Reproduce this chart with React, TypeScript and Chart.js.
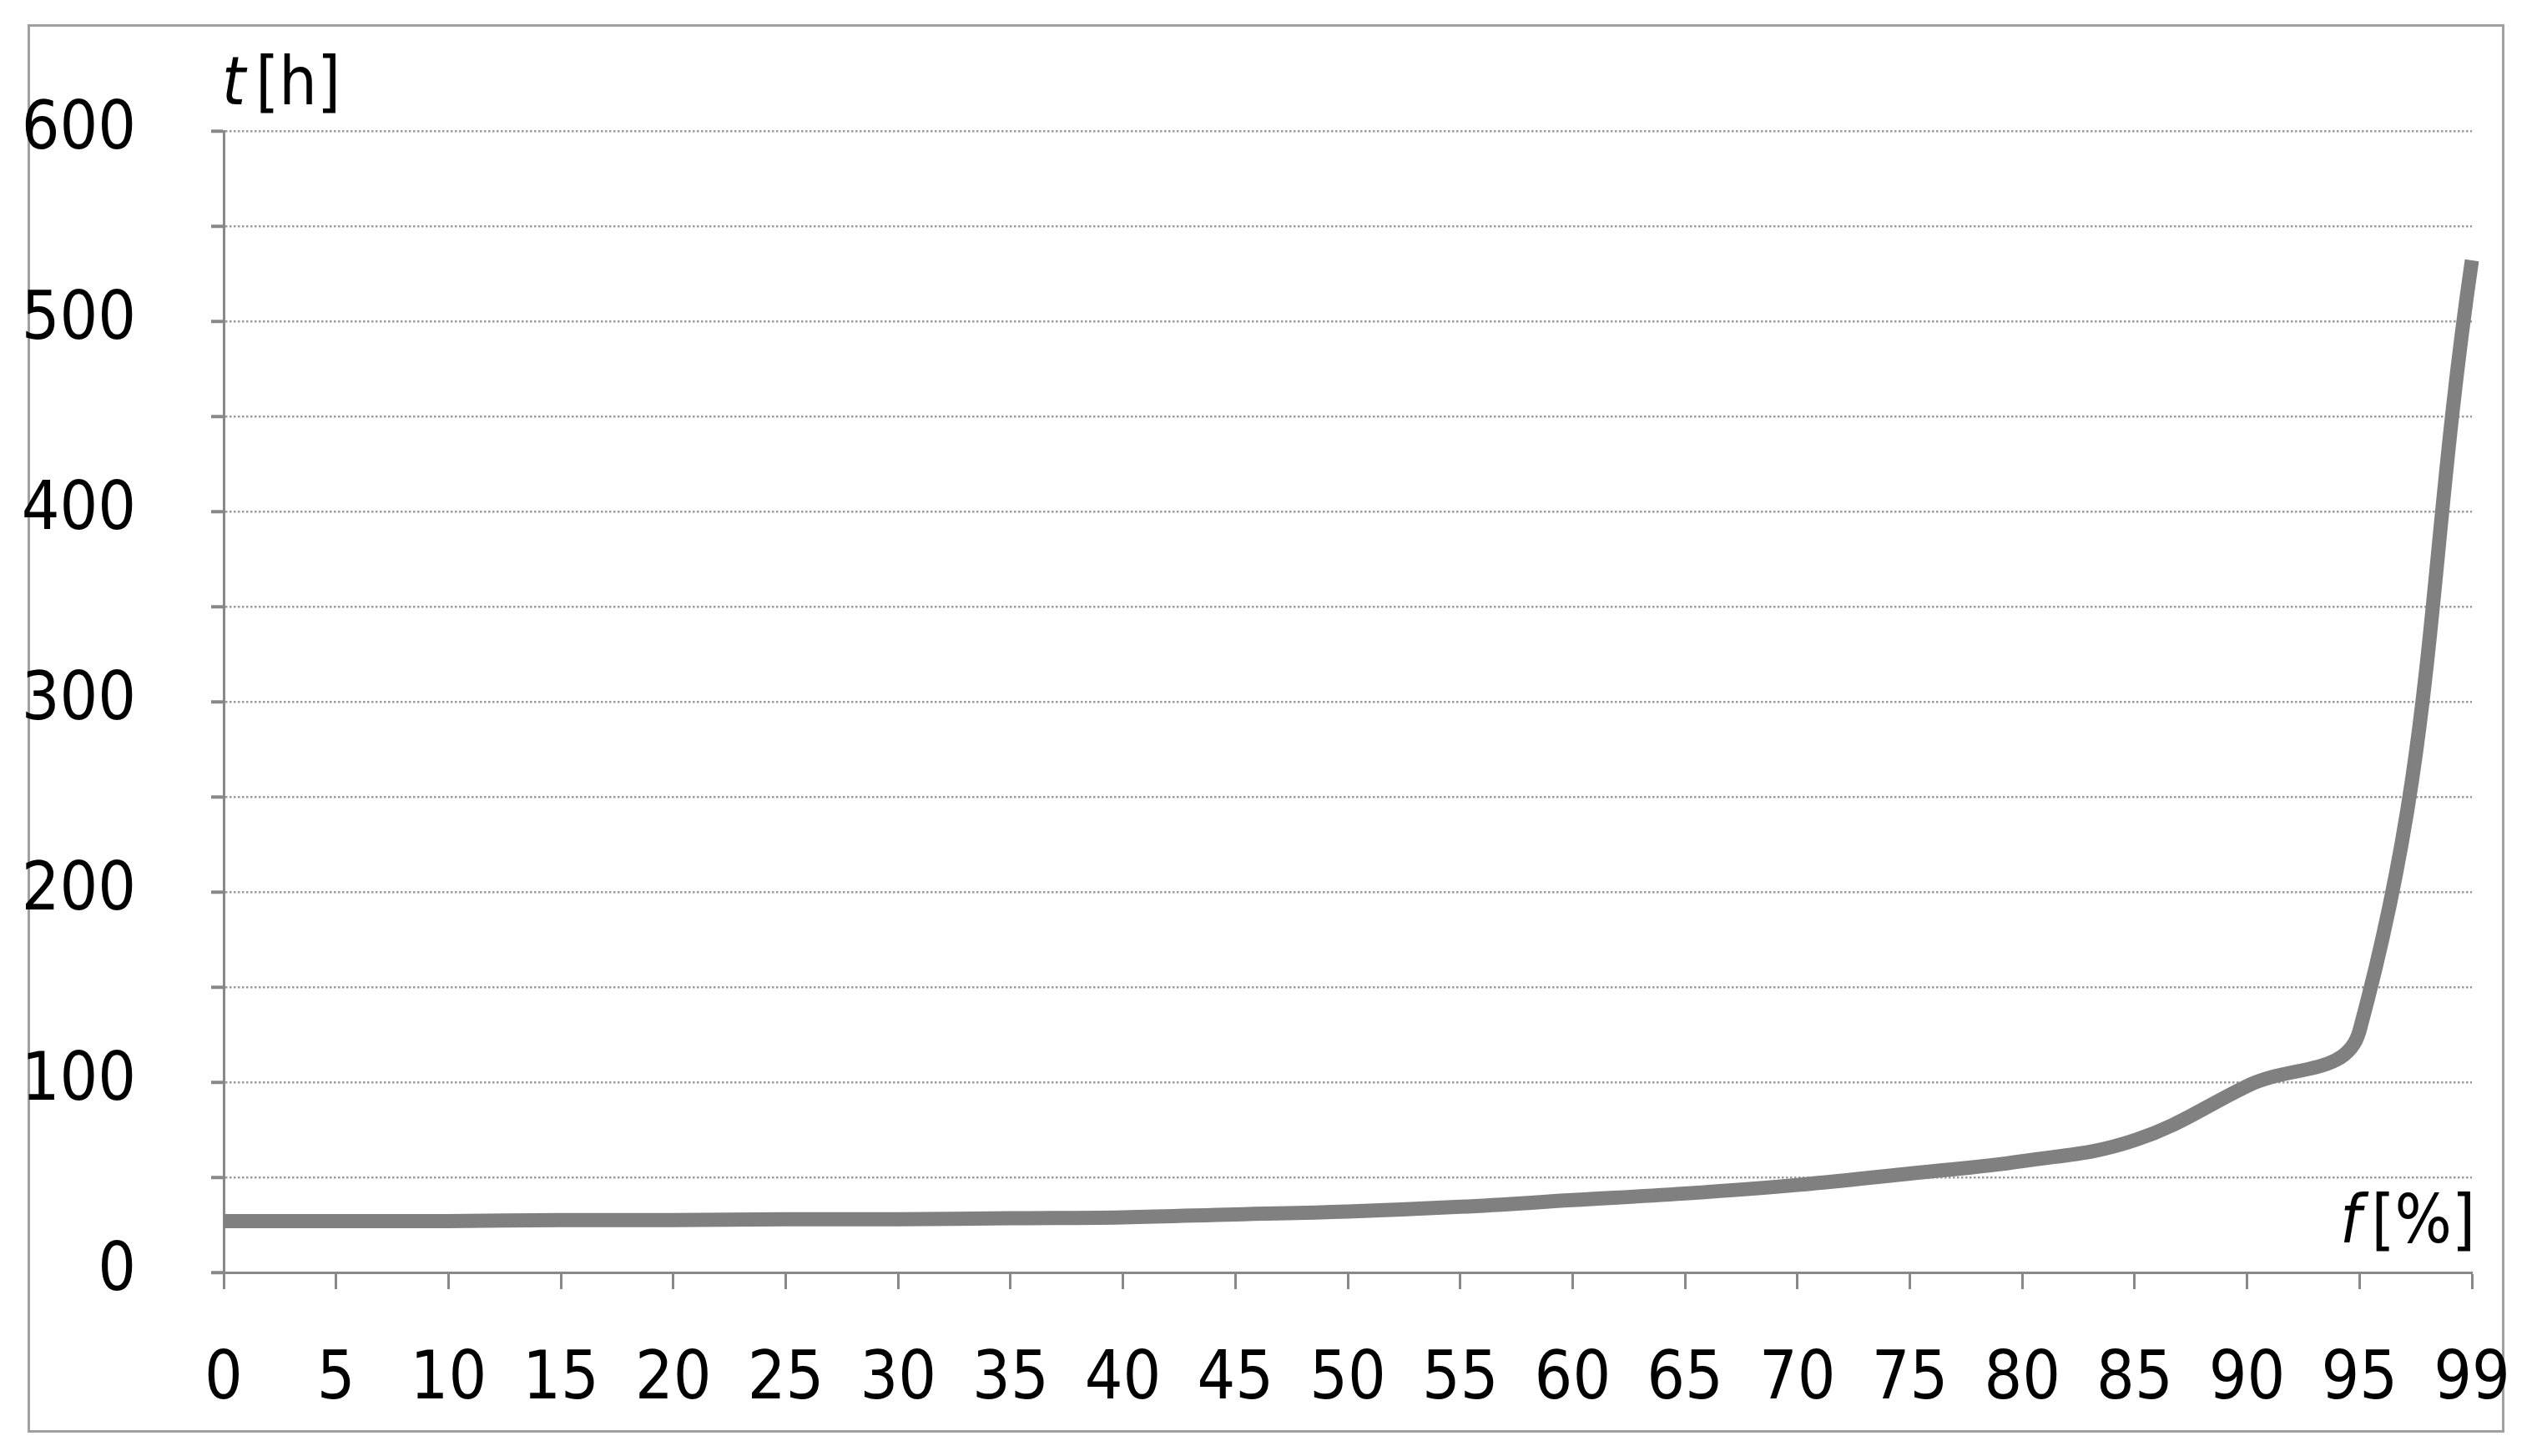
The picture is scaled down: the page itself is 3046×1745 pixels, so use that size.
import React, { useEffect, useRef } from "react";
import { Chart, registerables } from "chart.js";

Chart.register(...registerables);

const categories = ["0","5","10","15","20","25","30","35","40","45","50","55","60","65","70","75","80","85","90","95","99"];
const hours = [27, 27, 27, 27.5, 27.5, 28, 28, 28.5, 29, 30.5, 32, 34.5, 38, 41.5, 46, 52, 58.5, 69.5, 98, 127, 532];
const yTitleItalic = "t";
const yTitleRest = "[h]";
const xTitleItalic = "f";
const xTitleRest = "[%]";

const FONT = "'Liberation Sans Narrow', 'DejaVu Sans Condensed', sans-serif";
const W = 3030;
const H = 1729;

export default function App() {
  const ref = useRef<HTMLCanvasElement | null>(null);
  useEffect(() => {
    if (!ref.current) return;
    const titles = {
      id: "axisTitles",
      afterDraw(chart: any) {
        const ctx = chart.ctx;
        const ca = chart.chartArea;
        ctx.save();
        ctx.fillStyle = "#000";
        ctx.textBaseline = "alphabetic";
        // y title
        ctx.textAlign = "left";
        ctx.font = `italic 80px ${FONT}`;
        const tx = ca.left - 2;
        const ty = ca.top - 32;
        ctx.fillText(yTitleItalic, tx, ty);
        const tw = ctx.measureText(yTitleItalic).width;
        ctx.font = `80px ${FONT}`;
        ctx.fillText(yTitleRest, tx + tw + 12, ty);
        // x title
        ctx.font = `80px ${FONT}`;
        const rw = ctx.measureText(xTitleRest).width;
        const rx = ca.right + 4;
        const ry = ca.bottom - 36;
        ctx.textAlign = "right";
        ctx.fillText(xTitleRest, rx, ry);
        ctx.font = `italic 80px ${FONT}`;
        ctx.fillText(xTitleItalic, rx - rw - 12, ry);
        ctx.restore();
      },
    };
    const chart = new Chart(ref.current, {
      type: "line",
      data: {
        labels: categories,
        datasets: [
          {
            data: hours,
            borderColor: "#808080",
            borderWidth: 17,
            pointRadius: 0,
            tension: 0.4,
            fill: false,
            borderCapStyle: "butt",
            borderJoinStyle: "round",
          },
        ],
      },
      options: {
        animation: false,
        responsive: false,
        maintainAspectRatio: false,
        layout: { padding: { left: 0, top: 149, right: 76, bottom: 0 } },
        plugins: { legend: { display: false }, tooltip: { enabled: false } },
        scales: {
          x: {
            type: "category",
            offset: false,
            afterFit: (s: any) => {
              s.height = 212;
              s.paddingLeft = 0;
              s.paddingRight = 0;
            },
            grid: {
              display: true,
              drawOnChartArea: false,
              drawTicks: true,
              tickLength: 20,
              tickColor: "#888",
              tickWidth: 3,
            },
            border: { display: true, color: "#888", width: 3 },
            ticks: {
              autoSkip: false,
              maxRotation: 0,
              padding: 62,
              color: "#000",
              font: { family: FONT, size: 80 },
            },
          },
          y: {
            min: 0,
            max: 600,
            afterFit: (s: any) => {
              s.width = 260;
              s.paddingTop = 0;
              s.paddingBottom = 0;
            },
            grid: {
              display: true,
              drawOnChartArea: true,
              drawTicks: true,
              tickLength: 15,
              color: "#9a9a9a",
              lineWidth: 2.5,
              tickColor: "#888",
              tickWidth: 4,
              tickBorderDash: [],
            },
            border: { display: true, color: "#888", width: 3, dash: [2.5, 2.5] },
            ticks: {
              stepSize: 50,
              padding: 90,
              color: "#000",
              font: { family: FONT, size: 80 },
              callback: (v: any) => (Number(v) % 100 === 0 ? String(v) : ""),
            },
          },
        },
      },
      plugins: [titles],
    } as any);
    return () => chart.destroy();
  }, []);
  return (
    <div style={{ position: "relative", width: W, height: H, background: "#fff" }}>
      <div
        style={{
          position: "absolute",
          left: 25,
          top: 21,
          width: 2968,
          height: 1688,
          border: "3px solid #a0a0a0",
          boxSizing: "border-box",
        }}
      />
      <canvas ref={ref} width={W} height={H} style={{ position: "absolute", left: 0, top: 0, width: W, height: H }} />
    </div>
  );
}
